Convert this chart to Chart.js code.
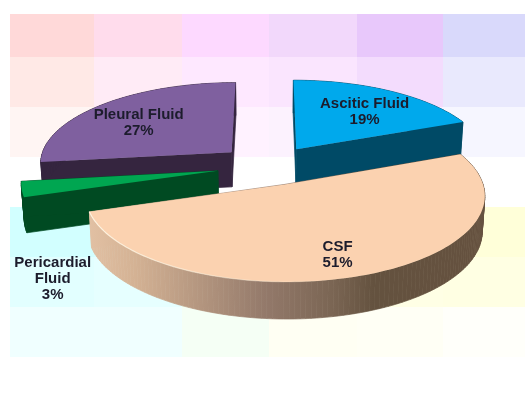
<!DOCTYPE html>
<html>
<head>
<meta charset="utf-8">
<title>Specimen types</title>
<script src="https://cdn.jsdelivr.net/npm/chart.js@4"></script>
<style>
    html, body { margin: 0; background: #fff; }
    canvas { display: block; filter: blur(0.5px); }
</style>
</head>
<body>
<canvas id="graficoPizza" width="525" height="396"></canvas>
<script>
// Chart values, clockwise from 12 o'clock
const categories = ['Ascitic Fluid', 'CSF', 'Pericardial Fluid', 'Pleural Fluid'];
const labelLines = [['Ascitic Fluid'], ['CSF'], ['Pericardial', 'Fluid'], ['Pleural Fluid']];
const values = [19, 51, 3, 27];

// Slice styles
const explode = [45, 41, 47, 46];
const topColors = ['#00a9ec', '#fbd2b0', '#00a651', '#7f609f'];
const wallColors = ['#004a66', null, '#004a22', '#35253f'];
const drawOrder = [0, 3, 2, 1];
const labelRadial = [0.62, 0.8, 1, 0.69];
const labelShift = [[8, 0], [-8, 0], [31, 90], [-2, 4]];

// Pastel panel behind the pie
const panelCols = [10, 94, 182, 269, 357, 443, 525];
const panelRows = [14, 57, 107, 157, 207, 257, 307, 357];
const panelColors = [
    ['#ffd9d9', '#ffdcec', '#fdd9ff', '#f2d8fb', '#e8c8fb', '#d9d9fb'],
    ['#ffe9e6', '#ffebf6', '#fee8ff', '#fae5fe', '#f3dcfd', '#e9e9fd'],
    ['#fff5f3', '#fff3fa', '#fff2ff', '#fcf2fe', '#fbf0ff', '#f6f6ff'],
    ['#ffffff', '#ffffff', '#ffffff', '#ffffff', '#ffffff', '#ffffff'],
    ['#d2ffff', '#d8ffff', '#e4ffe4', '#ffffdc', '#ffffdc', '#ffffd9'],
    ['#e2ffff', '#e6ffff', '#ecffec', '#ffffe8', '#ffffe5', '#ffffe3'],
    ['#f0ffff', '#f0ffff', '#f5fff5', '#fffff3', '#fffff5', '#fffffa']
];

// Ground plane to screen
const view = { cx: 269, cy: 166, a: 193, b: 81, k: 0.12, depth: 35 };

function projetar(X, Y, z) {
    const w = 1 - view.k * Y;
    const shrink = 1 - 0.012 * z;
    return {
        x: view.cx + (view.a * X / w) * shrink,
        y: view.cy + view.b * Y / w + z * view.depth * (1 + 0.05 * Y)
    };
}

// Outline of one slice on the ground plane, from the library's arc element
function contornoFatia(el) {
    const R = el.outerRadius;
    const mid = (el.startAngle + el.endAngle) / 2;
    const off = el.options.offset / R;
    const ox = Math.cos(mid) * off;
    const oy = Math.sin(mid) * off;
    const pts = [{ X: ox, Y: oy }];
    const steps = Math.ceil((el.endAngle - el.startAngle) * 40);
    for (let i = 0; i <= steps; i++) {
        const t = el.startAngle + (el.endAngle - el.startAngle) * i / steps;
        pts.push({ X: ox + Math.cos(t), Y: oy + Math.sin(t) });
    }
    return { pts: pts, ox: ox, oy: oy, mid: mid };
}

function preencher(ctx, pts, z) {
    ctx.beginPath();
    pts.forEach(function (p, i) {
        const s = projetar(p.X, p.Y, z);
        if (i === 0) ctx.moveTo(s.x, s.y); else ctx.lineTo(s.x, s.y);
    });
    ctx.closePath();
    ctx.fill();
}

function desenharParede(ctx, pts, style) {
    ctx.fillStyle = style;
    ctx.strokeStyle = style;
    ctx.lineWidth = 0.7;
    for (let i = 0; i < pts.length; i++) {
        const p = pts[i];
        const q = pts[(i + 1) % pts.length];
        const a = projetar(p.X, p.Y, 0), b = projetar(q.X, q.Y, 0);
        const c = projetar(q.X, q.Y, 1), d = projetar(p.X, p.Y, 1);
        ctx.beginPath();
        ctx.moveTo(a.x, a.y);
        ctx.lineTo(b.x, b.y);
        ctx.lineTo(c.x, c.y);
        ctx.lineTo(d.x, d.y);
        ctx.closePath();
        ctx.fill();
        ctx.stroke();
    }
}

function gradienteCSF(ctx) {
    const g = ctx.createLinearGradient(87, 0, 485, 0);
    g.addColorStop(0, '#e2c1a4');
    g.addColorStop(0.12, '#d4b294');
    g.addColorStop(0.45, '#93796a');
    g.addColorStop(0.62, '#7a6553');
    g.addColorStop(0.72, '#64523f');
    g.addColorStop(1, '#65513f');
    return g;
}

const pie3d = {
    id: 'pie3d',
    beforeDraw: function (chart) {
        const ctx = chart.ctx;
        ctx.save();
        ctx.fillStyle = '#ffffff';
        ctx.fillRect(0, 0, chart.width, chart.height);
        panelColors.forEach(function (row, r) {
            row.forEach(function (color, c) {
                ctx.fillStyle = color;
                ctx.fillRect(panelCols[c], panelRows[r], panelCols[c + 1] - panelCols[c], panelRows[r + 1] - panelRows[r]);
            });
        });
        ctx.restore();
    },
    beforeDatasetsDraw: function (chart) {
        const ctx = chart.ctx;
        const arcs = chart.getDatasetMeta(0).data;
        ctx.save();

        drawOrder.forEach(function (i) {
            const f = contornoFatia(arcs[i]);
            const wall = wallColors[i] || gradienteCSF(ctx);
            desenharParede(ctx, f.pts, wall);
            ctx.fillStyle = topColors[i];
            preencher(ctx, f.pts, 0);

            // light rim on the CSF front edge
            if (i === 1) {
                const g = ctx.createLinearGradient(87, 0, 330, 0);
                g.addColorStop(0, 'rgba(255,246,228,0.95)');
                g.addColorStop(1, 'rgba(255,246,228,0)');
                ctx.strokeStyle = g;
                ctx.lineWidth = 1.2;
                ctx.beginPath();
                f.pts.slice(1).forEach(function (p, n) {
                    const s = projetar(p.X, p.Y, 0);
                    if (n === 0) ctx.moveTo(s.x, s.y); else ctx.lineTo(s.x, s.y);
                });
                ctx.stroke();
            }
        });

        // labels
        ctx.textAlign = 'center';
        ctx.textBaseline = 'middle';
        ctx.font = 'bold 15px "Liberation Sans"';
        ctx.fillStyle = '#1c1c2c';
        arcs.forEach(function (el, i) {
            const f = contornoFatia(el);
            const s = projetar(
                f.ox + Math.cos(f.mid) * labelRadial[i],
                f.oy + Math.sin(f.mid) * labelRadial[i],
                0
            );
            const lines = labelLines[i].concat([values[i] + '%']);
            const top = s.y + labelShift[i][1] - (lines.length - 1) * 8;
            lines.forEach(function (line, n) {
                ctx.fillText(line, s.x + labelShift[i][0], top + n * 16);
            });
        });

        ctx.restore();
        return false;
    }
};

function plotarGrafico() {
    new Chart(document.getElementById('graficoPizza'), {
        type: 'pie',
        data: {
            labels: categories,
            datasets: [{
                data: values,
                backgroundColor: topColors,
                offset: explode,
                borderWidth: 0
            }]
        },
        options: {
            responsive: false,
            animation: false,
            events: [],
            plugins: {
                legend: { display: false },
                tooltip: { enabled: false }
            }
        },
        plugins: [pie3d]
    });
}

plotarGrafico();
</script>
</body>
</html>
